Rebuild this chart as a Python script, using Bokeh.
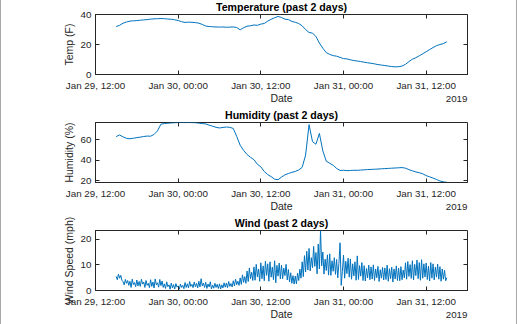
from datetime import datetime, timedelta

from bokeh.plotting import figure
from bokeh.models import (Range1d, DatetimeTickFormatter, FixedTicker,
                          DatetimeAxis, LinearAxis)
from bokeh.layouts import column
from bokeh.embed import file_html
from bokeh.resources import INLINE

# ---------------- data ----------------
START = datetime(2019, 1, 29, 15, 0)

# temperature (F), every 30 min from Jan 29 15:00
temp = [32.0, 32.8, 34.2, 35.0, 35.6, 35.8, 35.9, 36.2, 36.4, 36.6,
        36.9, 37.1, 37.2, 37.3, 37.2, 37.0, 36.8, 36.5, 36.0, 35.2,
        34.7, 34.9, 34.8, 34.6, 34.2, 33.4, 32.3, 32.0, 31.8, 31.7,
        31.6, 31.7, 31.5, 31.6, 31.7, 31.3, 29.8, 31.2, 32.2, 32.5,
        33.0, 32.8, 33.6, 34.0, 35.6, 36.8, 37.8, 38.7, 38.0, 36.9,
        36.6, 35.4, 34.8, 34.0, 32.4, 30.0, 28.0, 27.6, 25.3, 21.0,
        17.5, 14.6, 13.4, 12.6, 12.2, 11.4, 10.6, 10.4, 9.8, 9.3,
        9.0, 8.6, 8.2, 7.8, 7.5, 7.1, 6.6, 6.3, 6.0, 5.6,
        5.3, 5.1, 5.2, 5.6, 6.8, 8.6, 10.2, 11.2, 12.5, 13.8,
        15.2, 16.6, 18.0, 19.2, 20.0, 20.6, 21.8]

# humidity (%), every 30 min from Jan 29 15:00
hum = [62.9, 64.5, 62.6, 61.2, 60.8, 61.3, 61.9, 62.4, 63.0, 63.4,
       63.3, 65.0, 68.5, 75.0, 75.6, 75.9, 76.2, 76.4, 76.5, 76.6,
       76.5, 76.6, 76.5, 76.4, 76.0, 75.6, 75.2, 74.0, 73.0, 71.9,
       71.3, 71.8, 72.2, 71.9, 70.8, 63.0, 54.5, 49.5, 45.5, 42.8,
       40.5, 36.0, 33.5, 29.0, 26.0, 24.0, 21.5, 21.0, 23.5, 25.8,
       27.0, 28.2, 29.0, 30.5, 33.0, 45.0, 74.5, 58.0, 55.5, 66.0,
       49.0, 39.0, 37.0, 35.0, 32.0, 30.0, 30.2, 29.8, 30.0, 30.2,
       30.1, 30.4, 30.6, 30.9, 31.0, 31.2, 31.4, 31.6, 31.8, 32.0,
       32.2, 32.4, 32.6, 32.8, 32.2, 30.8, 29.6, 28.6, 27.8, 26.8,
       25.0, 23.8, 22.6, 21.2, 19.8, 19.0, 18.4]

# wind speed (mph), every 10 min from Jan 29 15:00 (one row per hour)
wind = [5.5, 4.2, 6.4, 4.8, 5.9, 4.0,
        3.4, 2.2, 4.3, 2.8, 3.9, 2.0,
        3.6, 1.2, 4.4, 2.3, 3.1, 1.5,
        4.1, 1.8, 3.5, 1.6, 4.4, 2.5,
        3.3, 1.2, 3.9, 2.0, 2.8, 1.1,
        4.2, 1.6, 3.3, 1.0, 4.5, 2.2,
        3.0, 1.3, 4.3, 1.9, 3.7, 1.2,
        2.6, 0.8, 3.4, 1.5, 2.2, 0.5,
        2.9, 1.0, 2.3, 0.6, 2.7, 1.3,
        1.8, 0.5, 2.5, 1.2, 2.0, 0.7,
        3.1, 1.2, 2.6, 1.0, 3.5, 1.6,
        2.4, 1.1, 3.3, 1.5, 2.8, 1.0,
        3.6, 1.4, 4.6, 1.8, 2.9, 1.2,
        3.2, 0.8, 2.5, 1.4, 3.4, 0.6,
        2.1, 0.9, 2.8, 1.2, 2.4, 0.8,
        2.6, 0.6, 2.2, 1.0, 3.0, 1.3,
        2.9, 1.1, 3.5, 1.6, 2.7, 1.4,
        3.8, 1.8, 4.4, 2.3, 3.6, 2.0,
        4.9, 2.4, 6.1, 3.2, 5.4, 2.8,
        7.6, 3.5, 8.8, 4.6, 7.1, 3.9,
        9.2, 4.0, 10.2, 5.3, 8.4, 3.6,
        10.8, 4.6, 9.6, 3.8, 11.4, 5.9,
        10.4, 3.6, 11.2, 5.2, 9.1, 4.2,
        11.6, 3.0, 9.8, 5.6, 10.7, 4.5,
        9.9, 4.6, 8.7, 5.8, 10.2, 4.1,
        8.2, 3.3, 6.9, 2.8, 5.8, 2.5,
        5.6, 2.6, 6.8, 3.9, 8.3, 4.8,
        11.2, 5.4, 13.6, 7.2, 15.3, 8.0,
        16.4, 7.6, 12.8, 8.9, 17.2, 9.4,
        14.8, 6.5, 18.1, 8.4, 23.3, 9.6,
        15.0, 6.4, 12.2, 7.8, 13.9, 6.0,
        14.3, 5.9, 11.6, 7.5, 12.8, 6.3,
        12.1, 4.9, 10.6, 18.6, 2.0, 7.4,
        13.8, 4.8, 11.4, 6.6, 12.6, 5.2,
        12.3, 4.4, 10.4, 5.7, 11.2, 4.0,
        13.5, 4.3, 9.7, 5.6, 10.9, 3.9,
        9.7, 3.7, 8.6, 4.9, 9.9, 4.2,
        9.2, 4.5, 10.0, 3.9, 8.4, 5.0,
        9.4, 3.5, 8.1, 4.8, 9.0, 4.1,
        8.8, 4.3, 9.9, 3.6, 8.5, 4.6,
        9.1, 3.3, 8.4, 4.5, 9.6, 3.9,
        8.7, 3.8, 9.3, 4.2, 8.0, 4.9,
        10.8, 4.4, 11.3, 5.5, 10.1, 4.7,
        11.6, 4.1, 10.2, 5.8, 11.9, 4.6,
        10.9, 4.0, 12.0, 4.8, 10.4, 5.3,
        10.7, 4.3, 9.5, 3.7, 10.9, 4.8,
        10.4, 4.1, 9.1, 5.2, 10.3, 4.4,
        9.3, 3.6, 8.4, 4.4, 7.9, 3.8,
        5.0]

t_temp = [START + timedelta(minutes=30 * i) for i in range(len(temp))]
t_hum = [START + timedelta(minutes=30 * i) for i in range(len(hum))]
t_wind = [START + timedelta(minutes=10 * i) for i in range(len(wind))]

X_START = datetime(2019, 1, 29, 12)
X_END = datetime(2019, 1, 31, 18)
X_TICKS = [datetime(2019, 1, 29, 12), datetime(2019, 1, 30, 0), datetime(2019, 1, 30, 12),
           datetime(2019, 1, 31, 0), datetime(2019, 1, 31, 12)]

titles = ["Temperature (past 2 days)", "Humidity (past 2 days)", "Wind (past 2 days)"]
ylabels = ["Temp (F)", "Humidity (%)", "Wind Speed (mph)"]
yranges = [(0, 40), (18.3, 76.6), (0, 23.4)]
yticks = [[0, 20, 40], [20, 40, 60], [0, 10, 20]]

# ---------------- styling ----------------
FONT = "Liberation Sans"
AX = "#262626"
BLUE = "#0072BD"
EPOCH = datetime(1970, 1, 1)
FRAME_W = 372
TICK_FS = 9.8
YEAR_HALF_PX = 4 * 0.556 * TICK_FS / 2.0   # half width of the "2019" text


def ms(d):
    return (d - EPOCH).total_seconds() * 1000.0


def fmt_all(s):
    return DatetimeTickFormatter(milliseconds=s, seconds=s, minsec=s, minutes=s,
                                 hourmin=s, hours=s, days=s, months=s, years=s)


fmt = fmt_all("%b %d, %H:%M")
ms_per_px = (ms(X_END) - ms(X_START)) / FRAME_W
year_tick = ms(X_END) - YEAR_HALF_PX * ms_per_px


def make(times, vals, title, ylabel, yr, yt):
    p = figure(width=515, height=108, x_axis_type="datetime",
               x_range=Range1d(X_START, X_END), y_range=Range1d(*yr),
               output_backend="svg", toolbar_location=None,
               min_border_left=94, min_border_right=49, min_border_top=14,
               min_border_bottom=34, frame_width=FRAME_W, frame_height=60,
               title=title)
    p.title.text_font = FONT
    p.title.text_font_size = "10.6px"
    p.title.text_font_style = "bold"
    p.title.text_color = "#000000"
    p.title.align = "center"
    p.title.vertical_align = "top"
    p.title.standoff = 0
    p.title.offset = 0

    p.line(times, vals, line_color=BLUE, line_width=1)
    p.grid.visible = False
    p.outline_line_color = AX
    p.outline_line_width = 1
    p.background_fill_color = "white"
    p.border_fill_color = "white"

    xt = FixedTicker(ticks=[ms(d) for d in X_TICKS])
    ytk = FixedTicker(ticks=yt)

    xa = p.xaxis[0]
    xa.ticker = xt
    xa.formatter = fmt
    xa.axis_label = "Date"
    ya = p.yaxis[0]
    ya.ticker = ytk
    ya.axis_label = ylabel

    for a in (xa, ya):
        a.axis_line_color = AX
        a.major_tick_line_color = AX
        a.major_tick_in = 4
        a.major_tick_out = 0
        a.minor_tick_line_color = None
        a.major_label_text_font = FONT
        a.major_label_text_font_size = "%spx" % TICK_FS
        a.major_label_text_color = AX
        a.axis_label_text_font = FONT
        a.axis_label_text_font_size = "10.5px"
        a.axis_label_text_font_style = "normal"
        a.axis_label_text_color = AX
    xa.major_label_standoff = 5
    xa.axis_label_standoff = -2
    ya.major_label_standoff = 4
    ya.axis_label_standoff = 3

    # mirrored ticks on top and right (box on)
    top = DatetimeAxis(ticker=xt, formatter=fmt)
    right = LinearAxis(ticker=ytk)
    for a in (top, right):
        a.axis_line_color = None
        a.major_tick_line_color = AX
        a.major_tick_in = 4
        a.major_tick_out = 0
        a.minor_tick_line_color = None
        a.major_label_text_font_size = "1px"
        a.major_label_text_color = None
        a.major_label_standoff = 0
    p.add_layout(top, "above")
    p.add_layout(right, "right")

    # year label, right-aligned at the end of the x axis, on the "Date" line
    yax = DatetimeAxis(ticker=FixedTicker(ticks=[year_tick]), formatter=fmt_all("%Y"))
    yax.axis_line_color = None
    yax.major_tick_line_color = None
    yax.minor_tick_line_color = None
    yax.major_tick_in = 0
    yax.major_tick_out = 0
    yax.major_label_standoff = -11
    yax.major_label_text_font = FONT
    yax.major_label_text_font_size = "%spx" % TICK_FS
    yax.major_label_text_color = AX
    p.add_layout(yax, "below")
    return p


plots = [make(t_temp, temp, titles[0], ylabels[0], yranges[0], yticks[0]),
         make(t_hum, hum, titles[1], ylabels[1], yranges[1], yticks[1]),
         make(t_wind, wind, titles[2], ylabels[2], yranges[2], yticks[2])]

layout = column(*plots, spacing=0,
                styles={"border-left": "1px solid #a8a8a8", "border-right": "1px solid #a8a8a8"})

open("out.html", "w").write(file_html(layout, INLINE))
